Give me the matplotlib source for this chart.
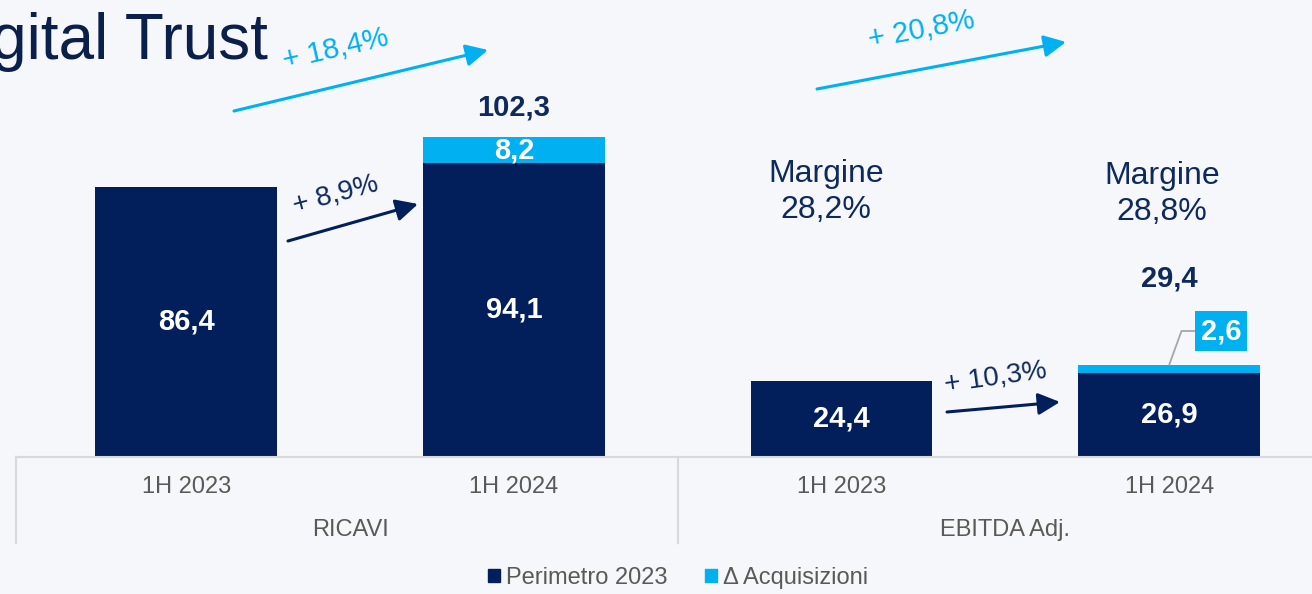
import matplotlib
matplotlib.use("Agg")
import matplotlib.pyplot as plt
from matplotlib.patches import Patch, FancyArrowPatch
from matplotlib.transforms import blended_transform_factory

plt.rcParams['font.family'] = ['Liberation Sans', 'DejaVu Sans']

# ---- data ----
groups = ["RICAVI", "EBITDA Adj."]
periods = ["1H 2023", "1H 2024", "1H 2023", "1H 2024"]
perimetro = [86.4, 94.1, 24.4, 26.9]
acquisizioni = [0.0, 8.2, 0.0, 2.6]
totals = [None, 102.3, None, 29.4]
growth_total = ["+ 18,4%", "+ 20,8%"]
growth_perim = ["+ 8,9%", "+ 10,3%"]
margins = ["Margine\n28,2%", "Margine\n28,8%"]
series_names = ["Perimetro 2023", "\u0394 Acquisizioni"]

NAVY = "#021F5C"
LIGHT = "#00B0F0"
GREY = "#595959"
LINE = "#D9D9D9"
BG = "#F5F7FB"
TXT = "#0E2A5C"

W, H = 1312, 594
fig = plt.figure(figsize=(W / 100, H / 100), dpi=100, facecolor=BG)
ax = fig.add_axes([16 / W, 137 / H, 1317 / W, 375 / H])
ax.set_facecolor("none")
ax.set_xlim(-0.52, 3.5)
ax.set_ylim(0, 120)

x = list(range(len(periods)))
bw = 0.555
ax.bar(x, perimetro, width=bw, color=NAVY, zorder=2)
ax.bar(x, acquisizioni, width=bw, bottom=perimetro, color=LIGHT, zorder=2)

# spines / ticks
for s in ["top", "right", "left"]:
    ax.spines[s].set_visible(False)
ax.spines["bottom"].set_color(LINE)
ax.spines["bottom"].set_linewidth(1.5)
ax.set_yticks([])
ax.set_xticks(x)
ax.set_xticklabels(periods, fontsize=17, color=GREY)
ax.tick_params(axis="x", length=0, pad=14)

trans = blended_transform_factory(ax.transData, ax.transAxes)
for gx in [-0.52, 1.5, 3.5]:
    ax.plot([gx, gx], [0, -0.229], transform=trans, color=LINE, lw=1.5, clip_on=False)
for i, g in enumerate(groups):
    ax.text(2 * i + 0.5, -0.195, g, transform=trans, ha="center", va="center",
            fontsize=17, color=GREY)

# value labels inside bars
for i, v in enumerate(perimetro):
    ax.text(i, v / 2, f"{v:.1f}".replace(".", ","), ha="center", va="center",
            color="white", fontsize=21, fontweight="bold", zorder=3)
# 8,2 in segment
ax.text(1, perimetro[1] + acquisizioni[1] / 2, f"{acquisizioni[1]:.1f}".replace(".", ","),
        ha="center", va="center", color="white", fontsize=21, fontweight="bold", zorder=3)
# totals
for i, t in enumerate(totals):
    if t is not None:
        off = 9.5 if i == 1 else 27.5
        ax.text(i, perimetro[i] + acquisizioni[i] + off, f"{t:.1f}".replace(".", ","),
                ha="center", va="center", color=TXT, fontsize=21, fontweight="bold")

# 2,6 callout box
ax.annotate(f"{acquisizioni[3]:.1f}".replace(".", ","),
            xy=(3, perimetro[3] + acquisizioni[3]), xycoords="data",
            xytext=(1221, H - 331), textcoords="figure pixels",
            ha="center", va="center", color="white", fontsize=21, fontweight="bold",
            bbox=dict(boxstyle="square,pad=0.2", fc=LIGHT, ec="none"),
            arrowprops=dict(arrowstyle="-", color="#A6A6A6", lw=1.3,
                            connectionstyle="angle,angleA=0,angleB=70,rad=0",
                            shrinkA=0, shrinkB=0))

# title (cut off at left)
fig.text(268 / W, (H - 59) / H, "Digital Trust", ha="right", va="baseline",
         fontsize=46, color="#0B1F4B")

# arrows
def arrow(p0, p1, color, lw):
    fig.add_artist(FancyArrowPatch(
        (p0[0] / W, (H - p0[1]) / H), (p1[0] / W, (H - p1[1]) / H),
        transform=fig.transFigure, arrowstyle="-|>,head_length=0.7,head_width=0.35",
        mutation_scale=19, color=color, lw=lw, shrinkA=0, shrinkB=0))

arrow((234, 111), (488, 50), LIGHT, 2.2)
arrow((817, 89), (1066, 42), LIGHT, 2.2)
arrow((288, 241), (418, 204), NAVY, 2.2)
arrow((947, 412), (1060, 402), NAVY, 2.2)

def ftext(px, py, s, **kw):
    fig.text(px / W, (H - py) / H, s, ha="center", va="center", **kw)

ftext(336, 49, growth_total[0], fontsize=21, color=LIGHT, rotation=13)
ftext(922, 30, growth_total[1], fontsize=21, color=LIGHT, rotation=11)
ftext(336, 195, growth_perim[0], fontsize=20, color=TXT, rotation=15)
ftext(996, 377, growth_perim[1], fontsize=20, color=TXT, rotation=8)

ftext(826, 192, margins[0], fontsize=23, color=TXT, linespacing=1.25)
ftext(1162, 194, margins[1], fontsize=23, color=TXT, linespacing=1.25)

# legend
handles = [Patch(color=NAVY), Patch(color=LIGHT)]
fig.legend(handles, series_names, loc="center", bbox_to_anchor=(678 / W, (H - 578) / H),
           ncol=2, frameon=False, fontsize=17, labelcolor=GREY,
           handlelength=0.5, handleheight=0.5, handletextpad=0.25, columnspacing=1.6)

fig.savefig("out.png", dpi=100, facecolor=BG)
